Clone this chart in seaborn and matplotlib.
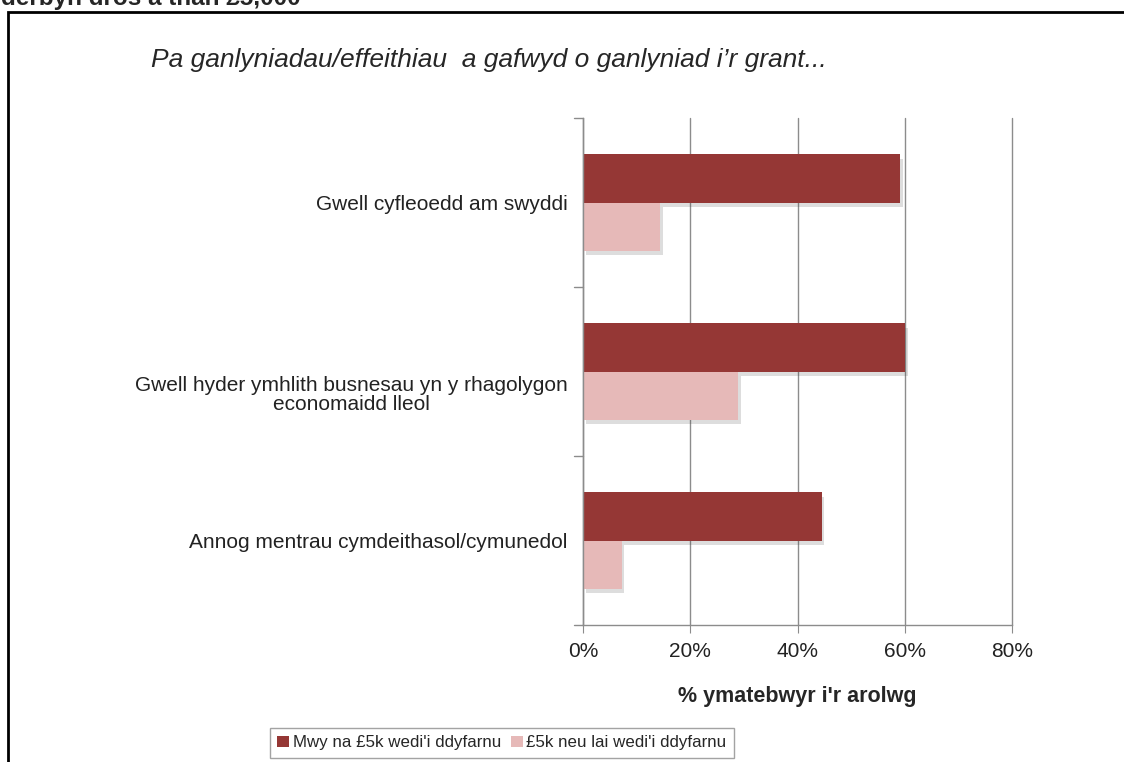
import matplotlib.pyplot as plt
import matplotlib.patheffects as pe
import matplotlib.transforms as mtransforms
from matplotlib.patches import Rectangle
import seaborn as sns
import pandas as pd

# data
categories = ["Gwell cyfleoedd am swyddi",
              "Gwell hyder ymhlith busnesau yn y rhagolygon\neconomaidd lleol",
              "Annog mentrau cymdeithasol/cymunedol"]
series_names = ["Mwy na £5k wedi'i ddyfarnu", "£5k neu lai wedi'i ddyfarnu"]
over_5k = [59.1, 60.0, 44.5]
under_5k = [14.4, 28.9, 7.2]
xticks = [0, 20, 40, 60, 80]
colors = ["#953735", "#E6B9B8"]

df = pd.DataFrame({
    "cat": categories * 2,
    "group": [series_names[0]] * 3 + [series_names[1]] * 3,
    "val": over_5k + under_5k,
})

sns.set_style("white")
plt.rcParams['font.family'] = ['Liberation Sans', 'DejaVu Sans']

fig = plt.figure(figsize=(11.24, 7.62), dpi=100)
ax = fig.add_axes([0.5187, 0.1798, 0.3817, 0.6652])

sns.barplot(data=df, x="val", y="cat", hue="group", order=categories,
            hue_order=series_names, palette=colors, width=0.57,
            saturation=1, ax=ax, legend=True)

# soft shadow like the office chart
for p in ax.patches:
    p.set_path_effects([pe.SimplePatchShadow(offset=(2, -3), alpha=0.18, shadow_rgbFace='#444444'),
                        pe.Normal()])
    p.set_edgecolor('none')

ax.set_xlim(0, 80)
ax.set_xticks(xticks)
ax.set_xticklabels([f"{t}%" for t in xticks], fontsize=15, color='#222222')
ax.xaxis.grid(True, color='#8c8c8c', linewidth=1)
for gl in ax.get_xgridlines():
    gl.set_clip_on(False)
ax.set_axisbelow(True)
ax.set_ylim(2.5, -0.5)

# category labels and Excel-style tick marks between groups
ax.set_yticks([0, 1, 2])
ax.set_yticklabels(categories, fontsize=15, color='#222222', ha='right',
                   multialignment='center', linespacing=1.05)
ax.tick_params(axis='y', length=0, pad=11)
# two-line label sits a little lower in the original
lbl = ax.get_yticklabels()[1]
lbl.set_transform(lbl.get_transform() + mtransforms.ScaledTranslation(0, -21 / 100, fig.dpi_scale_trans))
for b in [-0.5, 0.5, 1.5, 2.5]:
    ax.plot([-0.02, 0], [b, b], transform=ax.get_yaxis_transform(),
            color='#8c8c8c', lw=1, clip_on=False)
ax.tick_params(axis='x', length=6, direction='out', color='#8c8c8c', pad=6)
ax.xaxis.set_tick_params(which='major', bottom=True)

for s in ['top', 'right']:
    ax.spines[s].set_visible(False)
for s in ['left', 'bottom']:
    ax.spines[s].set_color('#8c8c8c')
    ax.spines[s].set_linewidth(1)

ax.set_ylabel("")
ax.set_xlabel("% ymatebwyr i'r arolwg", fontsize=15.5, fontweight='bold', labelpad=18)

leg = ax.legend(loc='center', bbox_to_anchor=(0.4466, 0.025), bbox_transform=fig.transFigure,
                ncol=2, frameon=True, fontsize=12.2, handlelength=0.7, handleheight=0.7,
                handletextpad=0.2, columnspacing=0.6, borderpad=0.45, fancybox=False)
leg.get_frame().set_edgecolor('#8c8c8c')
leg.get_frame().set_linewidth(1)
for h in leg.legend_handles:
    h.set_path_effects([])

fig.text(0.435, 0.921, "Pa ganlyniadau/effeithiau  a gafwyd o ganlyniad i\u2019r grant...",
         fontsize=19, style='italic', ha='center', va='center')
fig.text(0.001, 1 - 5 / 762, "derbyn dros a than £5,000", fontsize=17.5,
         fontweight='bold', ha='left', va='baseline')
fig.patches.append(Rectangle((0.0071, -0.05), 1.1, 0.984 + 0.05, transform=fig.transFigure,
                             fill=False, edgecolor='black', linewidth=2))

fig.savefig("out.png", dpi=100)
